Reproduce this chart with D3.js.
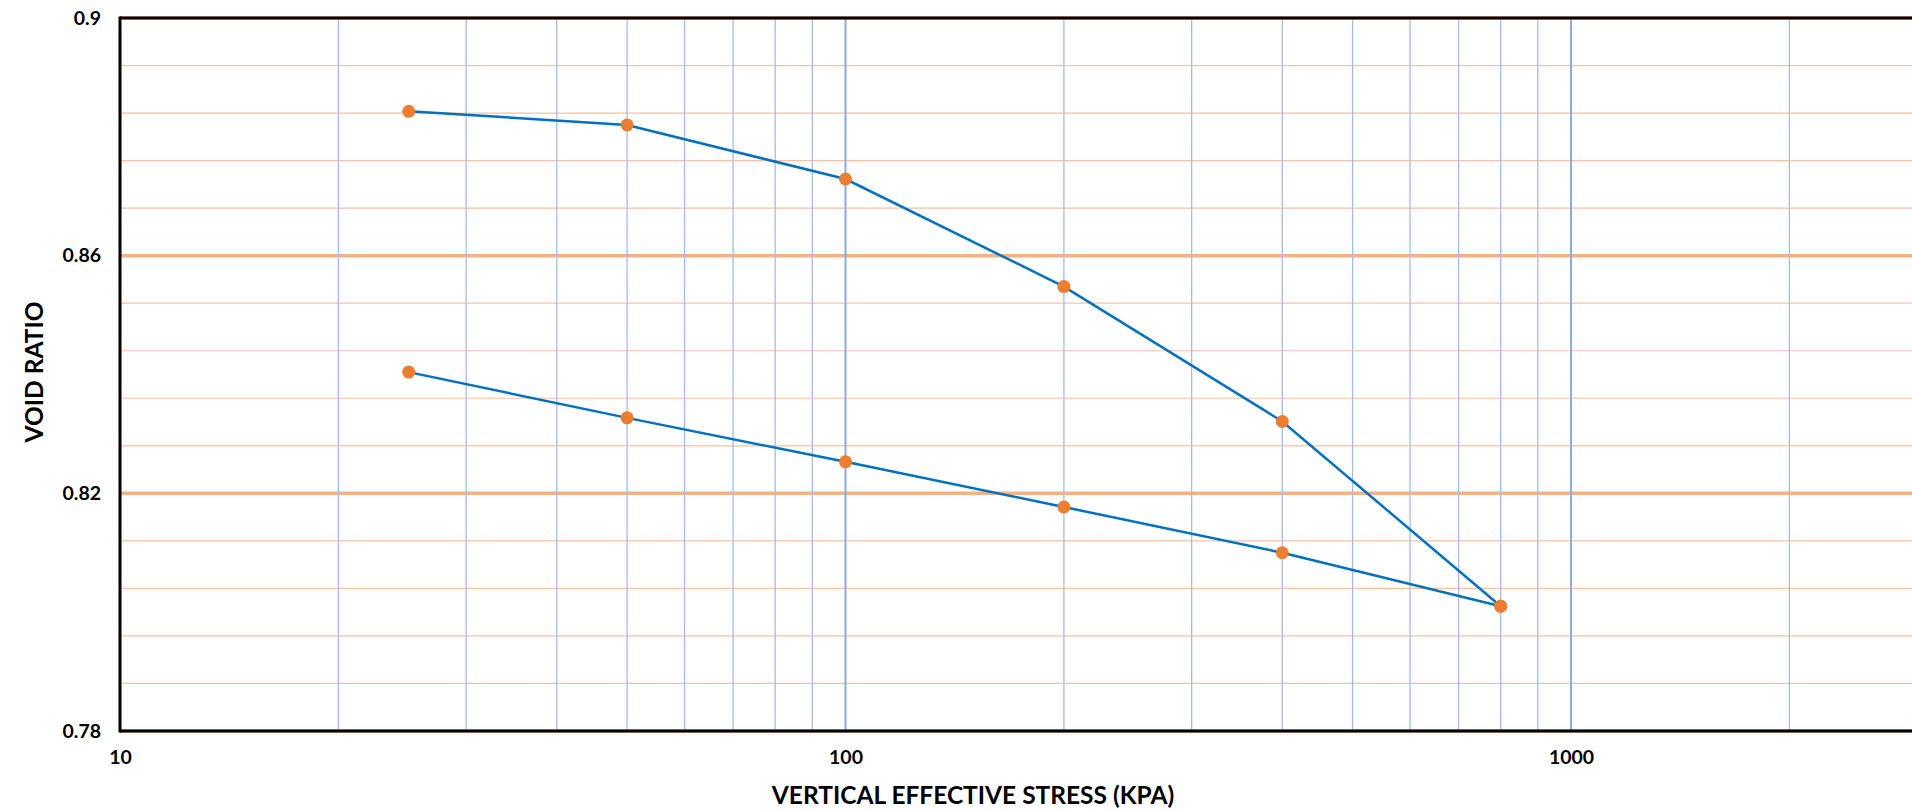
<!DOCTYPE html>
<html>
<head>
<meta charset="utf-8">
<script src="https://cdn.jsdelivr.net/npm/d3@7"></script>
<style>
  html, body { margin: 0; padding: 0; background: #ffffff; overflow: hidden; }
  svg { display: block; }
  text { font-family: Lato, "Open Sans", "Liberation Sans", sans-serif; font-weight: 700; fill: #000; }
</style>
</head>
<body>
<div id="chart"></div>
<script>
// ---- data ----
const stressLoading = [25, 50, 100, 200, 400, 800];
const voidLoading   = [0.8843, 0.8820, 0.8729, 0.8548, 0.8321, 0.8010];
const stressUnloading = [800, 400, 200, 100, 50, 25];
const voidUnloading   = [0.8010, 0.8100, 0.8177, 0.8253, 0.8327, 0.8404];
const xTickValues = [10, 100, 1000];
const xTickLabels = ["10", "100", "1000"];
const yTickValues = [0.78, 0.82, 0.86, 0.9];
const yTickLabels = ["0.78", "0.82", "0.86", "0.9"];
const yMinorStep = 0.008;
const xTitle = "VERTICAL EFFECTIVE STRESS (KPA)";
const yTitle = "VOID RATIO";

(function () {
// ---- layout ----
const W = 1912, H = 811;
const mLeft = 120, mTop = 18, mBottom = 731;
const decade = 725.5;

const svg = d3.select("#chart").append("svg").attr("width", W).attr("height", H);

const x = d3.scaleLog().domain([10, 10000]).range([mLeft, mLeft + 3 * decade]);
const y = d3.scaleLinear().domain([0.78, 0.9]).range([mBottom, mTop]);

// horizontal grid
const hMinor = d3.range(0, 16).map(i => +(0.78 + i * yMinorStep).toFixed(3));
const isMajorY = v => yTickValues.some(t => Math.abs(t - v) < 1e-6);
svg.append("g").selectAll("line").data(hMinor.filter(v => !isMajorY(v)))
  .join("line")
  .attr("x1", mLeft).attr("x2", W)
  .attr("y1", d => y(d)).attr("y2", d => y(d))
  .attr("stroke", "#f8c2a0").attr("stroke-width", 1.2);
svg.append("g").selectAll("line").data(yTickValues)
  .join("line")
  .attr("x1", mLeft).attr("x2", W)
  .attr("y1", d => y(d)).attr("y2", d => y(d))
  .attr("stroke", "#f4b183").attr("stroke-width", 3.5);

// vertical grid (log minor)
const vLines = [];
[10, 100, 1000].forEach(dec => { for (let k = 2; k <= 9; k++) vLines.push(dec * k); });
svg.append("g").selectAll("line").data(vLines.filter(v => x(v) < W))
  .join("line")
  .attr("x1", d => x(d)).attr("x2", d => x(d))
  .attr("y1", mTop).attr("y2", mBottom)
  .attr("stroke", "#a4bde8").attr("stroke-width", 1.3);
svg.append("g").selectAll("line").data([100, 1000])
  .join("line")
  .attr("x1", d => x(d)).attr("x2", d => x(d))
  .attr("y1", mTop).attr("y2", mBottom)
  .attr("stroke", "#8eaadb").attr("stroke-width", 2);

// axes frame
svg.append("line").attr("x1", mLeft).attr("x2", W).attr("y1", mTop).attr("y2", mTop)
  .attr("stroke", "#000").attr("stroke-width", 3);
svg.append("line").attr("x1", mLeft).attr("x2", W).attr("y1", mBottom).attr("y2", mBottom)
  .attr("stroke", "#000").attr("stroke-width", 3);
svg.append("line").attr("x1", mLeft).attr("x2", mLeft).attr("y1", mTop - 1.5).attr("y2", mBottom + 1.5)
  .attr("stroke", "#000").attr("stroke-width", 3);

// axis labels via d3 axes
const xAxis = d3.axisBottom(x).tickValues(xTickValues)
  .tickFormat((d, i) => xTickLabels[i]).tickSize(0).tickPadding(0);
const gx = svg.append("g").attr("transform", `translate(0,${mBottom})`).call(xAxis);
gx.select(".domain").remove();
gx.selectAll("text").attr("dy", null).attr("y", 33).attr("font-size", 19.5)
  .style("font-family", "Lato, 'Open Sans', sans-serif").style("font-weight", 700);

const yAxis = d3.axisLeft(y).tickValues(yTickValues)
  .tickFormat((d, i) => yTickLabels[i]).tickSize(0).tickPadding(19);
const gy = svg.append("g").attr("transform", `translate(${mLeft},0)`).call(yAxis);
gy.select(".domain").remove();
gy.selectAll("text").attr("font-size", 19.5)
  .style("font-family", "Lato, 'Open Sans', sans-serif").style("font-weight", 700);

// titles
svg.append("text").attr("x", 973).attr("y", 804).attr("text-anchor", "middle")
  .attr("font-size", 24.5).text(xTitle);
svg.append("text").attr("transform", "translate(43,372) rotate(-90)").attr("text-anchor", "middle")
  .attr("font-size", 24.5).text(yTitle);

// series
const line = d3.line().x(d => x(d[0])).y(d => y(d[1]));
const loading = stressLoading.map((s, i) => [s, voidLoading[i]]);
const unloading = stressUnloading.map((s, i) => [s, voidUnloading[i]]);
[loading, unloading].forEach(pts => {
  svg.append("path").datum(pts).attr("d", line)
    .attr("fill", "none").attr("stroke", "#0070c0").attr("stroke-width", 2.5);
});
[loading, unloading].forEach(pts => {
  svg.append("g").selectAll("circle").data(pts).join("circle")
    .attr("cx", d => x(d[0])).attr("cy", d => y(d[1])).attr("r", 6.5)
    .attr("fill", "#ed7d31");
});
})();
</script>
</body>
</html>
